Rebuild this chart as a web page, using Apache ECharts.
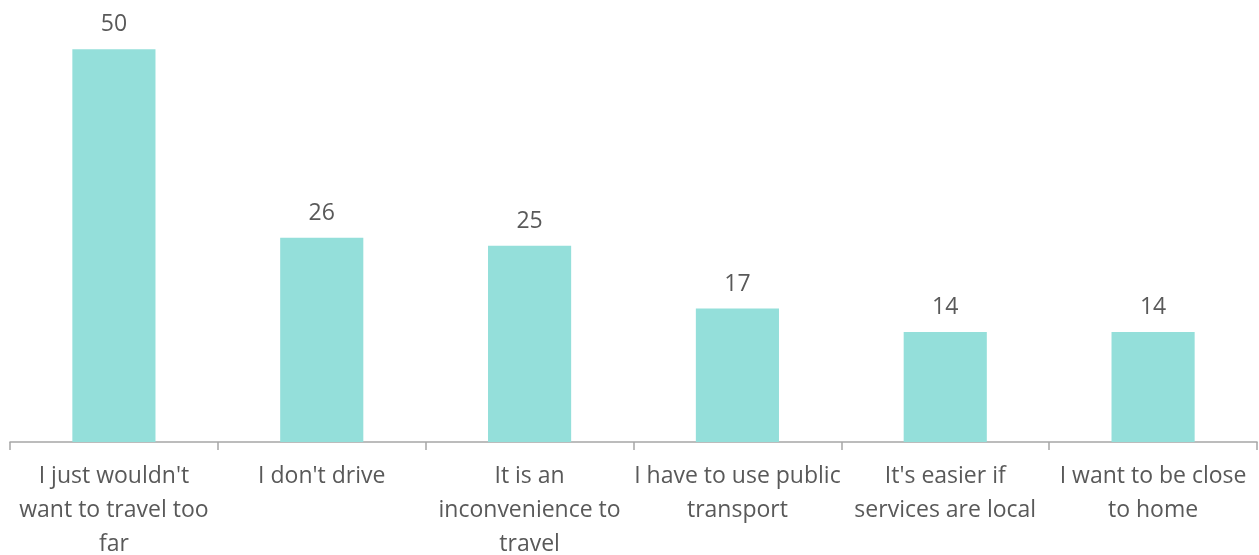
<!DOCTYPE html>
<html>
<head>
<meta charset="utf-8">
<script src="https://cdn.jsdelivr.net/npm/echarts@6/dist/echarts.min.js"></script>
<style>
  html, body { margin: 0; padding: 0; background: #ffffff; }
  #chart { width: 1259px; height: 555px; }
</style>
</head>
<body>
<div id="chart"></div>
<script>
// Reasons for preferring local services
const categories = [
  "I just wouldn't\nwant to travel too\nfar",
  "I don't drive",
  "It is an\ninconvenience to\ntravel",
  "I have to use public\ntransport",
  "It's easier if\nservices are local",
  "I want to be close\nto home"
];
const values = [50, 26, 25, 17, 14, 14];

const chart = echarts.init(document.getElementById('chart'));
chart.setOption({
  animation: false,
  textStyle: { fontFamily: '"Open Sans", Lato, sans-serif' },
  grid: {
    left: 10, right: 2, top: 10, bottom: 113,
    containLabel: false,
    outerBoundsMode: 'none'
  },
  xAxis: {
    type: 'category',
    data: categories,
    axisLine: { lineStyle: { color: '#A6A6A6', width: 1.5 } },
    axisTick: { show: true, length: 8, lineStyle: { color: '#A6A6A6', width: 1.5 } },
    axisLabel: {
      color: '#595959',
      fontSize: 23,
      lineHeight: 34,
      margin: 17,
      interval: 0,
      align: 'center'
    }
  },
  yAxis: {
    type: 'value',
    min: 0,
    max: 55,
    show: false,
    splitLine: { show: false }
  },
  series: [{
    type: 'bar',
    data: values,
    barWidth: '40%',
    itemStyle: { color: '#94DFDA' },
    label: {
      show: true,
      position: 'top',
      distance: 13,
      color: '#595959',
      fontSize: 23
    }
  }]
});
</script>
</body>
</html>
